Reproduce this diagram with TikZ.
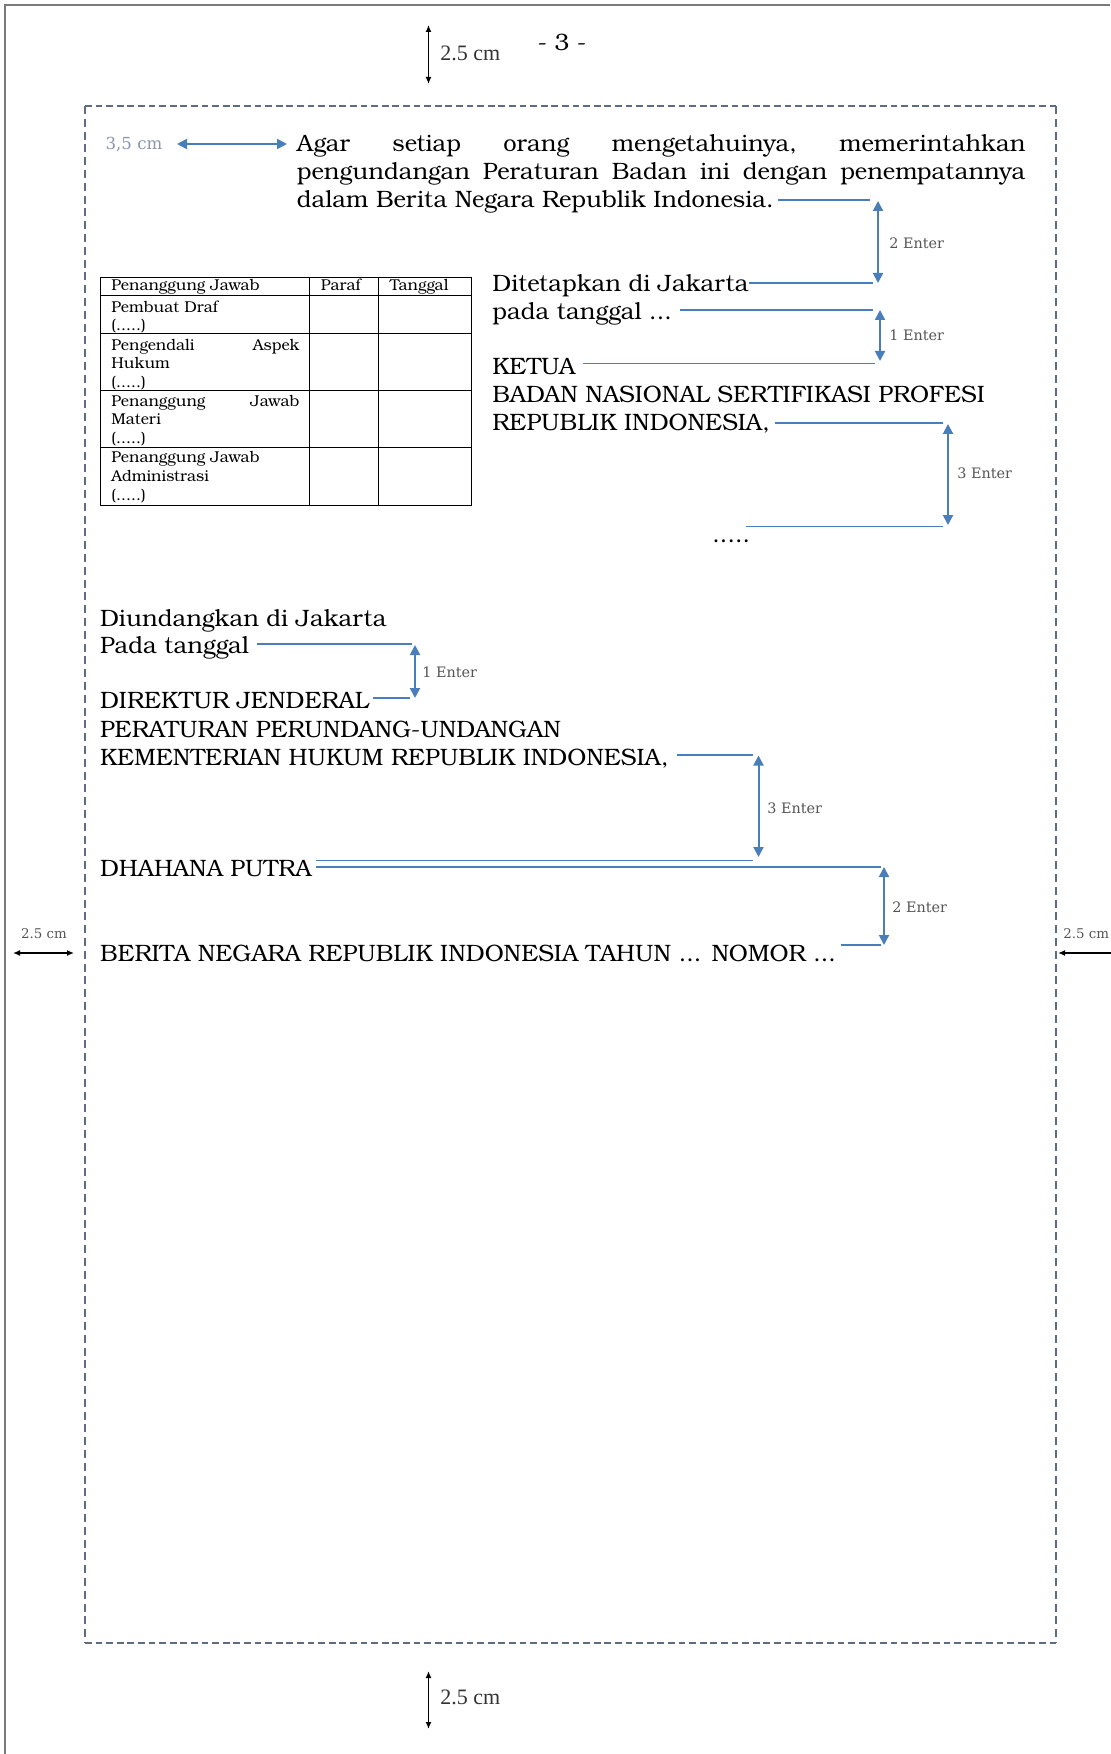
\documentclass[tikz,border=0pt]{standalone}
\usepackage{fontspec}
\setmainfont{TeX Gyre Bonum}
\newfontfamily\lblfont{DejaVu Serif}
\newfontfamily\timesfont{Liberation Serif}
\usetikzlibrary{arrows.meta}
\definecolor{ablue}{HTML}{4A7EBB}
\definecolor{framec}{HTML}{5F6B80}
\definecolor{lblgray}{HTML}{555555}
\definecolor{cmgray}{HTML}{8C96A8}
\definecolor{pagegray}{HTML}{7A7A7A}
\begin{document}
\begin{tikzpicture}[x=0.5pt,y=-0.5pt,
  body/.style={anchor=base west, inner sep=0pt, font=\fontsize{11.85}{14}\selectfont},
  cellt/.style={anchor=base west, inner sep=0pt, font=\fontsize{7.85}{9}\selectfont},
  enterlbl/.style={anchor=west, inner sep=0pt, text=lblgray, font=\lblfont\fontsize{7.2}{8}\selectfont},
  lead/.style={ablue, line width=0.65pt, shorten <=2pt},
  enterarrow/.style={ablue, line width=1pt, {Triangle[length=5pt,width=5pt]}-{Triangle[length=5pt,width=5pt]}},
  cmarrow/.style={black, line width=0.75pt, {Latex[length=3.5pt,width=3pt]}-{Latex[length=3.5pt,width=3pt]}},
  tbl/.style={black, line width=0.5pt},
  framesideh/.style={framec, line width=1.35pt, dash pattern=on 3.4pt off 1.9pt},
  framesidev/.style={framec, line width=1.35pt, dash pattern=on 4pt off 2.4pt}
]
\useasboundingbox (0,0) rectangle (1110,1754);
\fill[white] (0,0) rectangle (1110,1754);
% page edge
\draw[pagegray, line width=0.8pt] (5,1754) -- (5,5) -- (1110,5);
% dashed frame
\coordinate (fTL) at (85,106);
\coordinate (fTR) at (1056,106);
\coordinate (fBL) at (85,1643);
\coordinate (fBR) at (1056,1643);
\draw[framesideh] (fTL) -- (fTR);
\draw[framesideh] (fBL) -- (fBR);
\draw[framesidev] (fTL) -- (fBL);
\draw[framesidev] (fTR) -- (fBR);

% margin marks
\coordinate (tA) at (428.5,25);
\coordinate (tB) at (428.5,84);
\draw[cmarrow] (tA) -- (tB);
\node[anchor=west, inner sep=0pt, text=black!80, font=\timesfont\fontsize{11}{12}\selectfont] (tlbl) at (440,53) {2.5 cm};
\node[anchor=base, inner sep=0pt, font=\fontsize{11.85}{14}\selectfont] (pnum) at (562,51) {- 3 -};

\coordinate (bA) at (428.5,1671);
\coordinate (bB) at (428.5,1729);
\draw[cmarrow] (bA) -- (bB);
\node[anchor=west, inner sep=0pt, text=black!80, font=\timesfont\fontsize{11}{12}\selectfont] (blbl) at (440,1697) {2.5 cm};

\coordinate (lA) at (13,953);
\coordinate (lB) at (74,953);
\draw[cmarrow] (lA) -- (lB);
\node[inner sep=0pt, text=lblgray, font=\lblfont\fontsize{6.7}{8}\selectfont] (llbl) at (44,934) {2.5 cm};

\coordinate (rA) at (1058,953);
\coordinate (rB) at (1125,953);
\draw[cmarrow] (rA) -- (rB);
\node[anchor=west, inner sep=0pt, text=lblgray, font=\lblfont\fontsize{6.7}{8}\selectfont] (rlbl) at (1063,934) {2.5 cm};

% 3,5 cm
\node[inner sep=0pt, text=cmgray, font=\lblfont\fontsize{8.3}{9}\selectfont] (cm35) at (134,144) {3,5 cm};
\coordinate (sA) at (177,144);
\coordinate (sB) at (287,144);
\draw[enterarrow] (sA) -- (sB);

% paragraph
\node[body] (p1) at (296.5,152) {\hbox to 364.25pt{Agar\hfill setiap\hfill orang\hfill mengetahuinya,\hfill memerintahkan}};
\node[body] (p2) at (296.5,180) {\hbox to 364.25pt{pengundangan\hfill Peraturan\hfill Badan\hfill ini\hfill dengan\hfill penempatannya}};
\node[body] (p3) at (296.5,208) {dalam Berita Negara Republik Indonesia.};
\coordinate (c1) at (870,200);
\draw[lead] (p3.east |- c1) -- (c1);
\coordinate (e1a) at (878,201);
\coordinate (e1b) at (878,283);
\draw[enterarrow] (e1a) -- (e1b);
\node[enterlbl] (l1) at (889,243) {2 Enter};

% right signature block
\node[body] (dit) at (492,292) {Ditetapkan di Jakarta};
\coordinate (c2) at (873,283);
\draw[lead, shorten <=0pt] (dit.east |- c2) -- (c2);
\node[body] (pada) at (492,320) {pada tanggal ...};
\coordinate (c3) at (873,310);
\draw[lead, shorten <=4pt] (pada.east |- c3) -- (c3);
\coordinate (e2a) at (880,310);
\coordinate (e2b) at (880,361);
\draw[enterarrow] (e2a) -- (e2b);
\node[enterlbl] (l2) at (889,335) {1 Enter};
\node[body] (ketua) at (492,375) {KETUA};
\coordinate (c4) at (875,363.5);
\draw[lead, shorten <=3.5pt] (ketua.east |- c4) -- (c4);
\node[body] (badan) at (492,403) {BADAN NASIONAL SERTIFIKASI PROFESI};
\node[body] (rep) at (492,431) {REPUBLIK INDONESIA,};
\coordinate (c5) at (943,423);
\draw[lead, shorten <=2.5pt] (rep.east |- c5) -- (c5);
\coordinate (e3a) at (948,424);
\coordinate (e3b) at (948,525);
\draw[enterarrow] (e3a) -- (e3b);
\node[enterlbl] (l3) at (957,473) {3 Enter};
\coordinate (c6a) at (746,526.5);
\coordinate (c6b) at (943,526.5);
\draw[lead, shorten <=0pt] (c6a) -- (c6b);
\node[body] (dots) at (712,542) {.....};

% table
\draw[tbl] (100,277.5) rectangle (471,505.5);
\draw[tbl] (309,277.5) -- (309,505.5);
\draw[tbl] (378,277.5) -- (378,505.5);
\draw[tbl] (100,296) -- (471,296);
\draw[tbl] (100,334) -- (471,334);
\draw[tbl] (100,391) -- (471,391);
\draw[tbl] (100,448) -- (471,448);
\node[cellt] (h1) at (111,290.5) {Penanggung Jawab};
\node[cellt] (h2) at (320.5,290.5) {Paraf};
\node[cellt] (h3) at (389.5,290.5) {Tanggal};
\node[cellt] (r1a) at (111,312.5) {Pembuat Draf};
\node[cellt] (r1b) at (111,331) {(.....)};
\node[cellt] (r2a) at (111,351) {\hbox to 94pt{Pengendali\hfill Aspek}};
\node[cellt] (r2b) at (111,369) {Hukum};
\node[cellt] (r2c) at (111,387.5) {(.....)};
\node[cellt] (r3a) at (111,406.5) {\hbox to 94pt{Penanggung\hfill Jawab}};
\node[cellt] (r3b) at (111,425) {Materi};
\node[cellt] (r3c) at (111,444) {(.....)};
\node[cellt] (r4a) at (111,463) {Penanggung Jawab};
\node[cellt] (r4b) at (111,481.5) {Administrasi};
\node[cellt] (r4c) at (111,500.5) {(.....)};

% lower block
\node[body] (diu) at (99.6,626.5) {Diundangkan di Jakarta};
\node[body] (pt2) at (99.6,653.5) {Pada tanggal};
\coordinate (d1) at (412,644);
\draw[lead, shorten <=4pt] (pt2.east |- d1) -- (d1);
\coordinate (e4a) at (415,645);
\coordinate (e4b) at (415,698);
\draw[enterarrow] (e4a) -- (e4b);
\node[enterlbl] (l4) at (422,672.5) {1 Enter};
\node[body] (dir) at (99.6,708.5) {DIREKTUR JENDERAL};
\coordinate (d2) at (410,698);
\draw[lead] (dir.east |- d2) -- (d2);
\node[body] (per) at (99.6,737) {PERATURAN PERUNDANG-UNDANGAN};
\node[body] (kem) at (99.6,765.5) {KEMENTERIAN HUKUM REPUBLIK INDONESIA,};
\coordinate (d3) at (753,755);
\draw[lead, shorten <=4pt] (kem.east |- d3) -- (d3);
\coordinate (e5a) at (758.5,755.5);
\coordinate (e5b) at (758.5,857);
\draw[enterarrow] (e5a) -- (e5b);
\node[enterlbl] (l5) at (767,808) {3 Enter};
\node[body] (dha) at (99.6,876.5) {DHAHANA PUTRA};
\coordinate (d4) at (753,860.5);
\coordinate (d5) at (881,867);
\draw[lead] (dha.east |- d4) -- (d4);
\draw[lead] (dha.east |- d5) -- (d5);
\coordinate (e6a) at (884,867);
\coordinate (e6b) at (884,945);
\draw[enterarrow] (e6a) -- (e6b);
\node[enterlbl] (l6) at (892,907.5) {2 Enter};
\node[body] (ber) at (99.6,961) {BERITA NEGARA REPUBLIK INDONESIA TAHUN ... NOMOR ...};
\coordinate (d6) at (881,945);
\draw[lead, shorten <=2.5pt] (ber.east |- d6) -- (d6);
\end{tikzpicture}
\end{document}
